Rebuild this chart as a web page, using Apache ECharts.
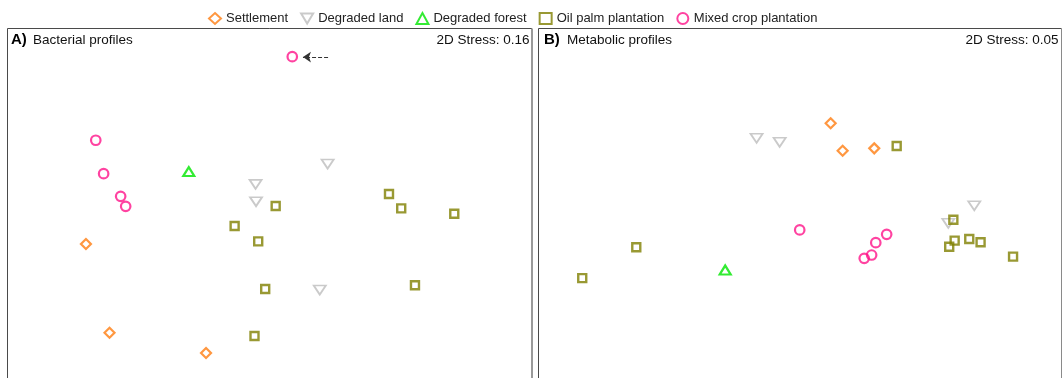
<!DOCTYPE html>
<html>
<head>
<meta charset="utf-8">
<script src="https://cdn.jsdelivr.net/npm/echarts@6/dist/echarts.min.js"></script>
<style>
  html, body { margin: 0; padding: 0; background: #fff; }
  #chart { width: 1063px; height: 378px; }
</style>
</head>
<body>
<div id="chart"></div>
<script>
// Land-use groups, in legend order
const groups = ['Settlement', 'Degraded land', 'Degraded forest', 'Oil palm plantation', 'Mixed crop plantation'];

// NMDS ordination scores [NMDS1, NMDS2] per group — A) bacterial profiles
const bacSettlement = [[-0.843, -0.165], [-0.735, -0.646], [-0.293, -0.756]];
const bacDegradedLand = [[0.264, 0.268], [-0.066, 0.158], [-0.064, 0.064], [0.228, -0.415]];
const bacDegradedForest = [[-0.372, 0.227]];
const bacOilPalm = [[0.026, 0.041], [-0.162, -0.068], [-0.054, -0.151], [0.545, 0.106], [0.601, 0.028],
                    [0.844, -0.001], [-0.022, -0.409], [0.664, -0.389], [-0.071, -0.664]];
const bacMixedCrop = [[0.102, 0.850], [-0.798, 0.397], [-0.762, 0.216], [-0.684, 0.093], [-0.661, 0.039]];

// NMDS ordination scores — B) metabolic profiles
const metSettlement = [[0.143, 0.489], [0.198, 0.340], [0.343, 0.353]];
const metDegradedLand = [[-0.197, 0.408], [-0.091, 0.386], [0.802, 0.042], [0.683, -0.053]];
const metDegradedForest = [[-0.341, -0.306]];
const metOilPalm = [[0.446, 0.366], [-0.749, -0.183], [-0.997, -0.350], [0.706, -0.034], [0.712, -0.147],
                    [0.687, -0.180], [0.779, -0.138], [0.831, -0.156], [0.980, -0.234]];
const metMixedCrop = [[0.001, -0.089], [0.297, -0.243], [0.331, -0.225], [0.350, -0.158], [0.400, -0.113]];

// Arrow marking the outlying mixed-crop sample in panel A (from -> to)
const outlierArrow = [[0.266, 0.848], [0.151, 0.848]];

// Panel captions and stress values
const panelTags = ['A)', 'B)'];
const panelTitles = ['Bacterial profiles', 'Metabolic profiles'];
const stressValues = ['0.16', '0.05'];

const colors = ['#ff7d10', '#bdbdbd', '#00e600', '#7f7f00', '#ff148a'];
const symbols = ['diamond', 'triangle', 'triangle', 'rect', 'circle'];
const rotations = [0, 180, 0, 0, 0];
const sizes = [[10, 10], [12, 9], [11, 9], [8, 8], [9.5, 9.5]];
const strokes = [2.2, 1.8, 2.2, 2.4, 2.2];

const panelData = [
  [bacSettlement, bacDegradedLand, bacDegradedForest, bacOilPalm, bacMixedCrop],
  [metSettlement, metDegradedLand, metDegradedForest, metOilPalm, metMixedCrop]
];

const FONT = '"Liberation Sans", Arial, sans-serif';

const series = [];
panelData.forEach(function (sets, p) {
  sets.forEach(function (pts, g) {
    const s = {
      type: 'scatter',
      name: groups[g],
      xAxisIndex: p,
      yAxisIndex: p,
      data: pts,
      symbol: symbols[g],
      symbolRotate: rotations[g],
      symbolSize: sizes[g],
      itemStyle: {
        color: 'rgba(255,255,255,0)',
        borderColor: colors[g],
        borderWidth: strokes[g]
      },
      emphasis: { disabled: true },
      silent: true
    };
    if (p === 0 && g === 4) {
      s.markLine = {
        silent: true,
        symbol: ['none', 'arrow'],
        symbolSize: 8,
        lineStyle: { type: [4, 2], color: '#333', width: 1 },
        label: { show: false },
        emphasis: { disabled: true },
        data: [[{ coord: outlierArrow[0] }, { coord: outlierArrow[1] }]]
      };
    }
    series.push(s);
  });
});

const axisBase = { min: -1.2, max: 1.2, show: false };
const yBase = { min: -1, max: 1, show: false };

// Panel frames (bottom edge runs past the canvas)
const frames = [
  { l: 7.5, r: 532, rColor: '#9a9a9a', rWidth: 2 },
  { l: 538.5, r: 1061.5, rColor: '#8a8a8a', rWidth: 1 }
];
const graphics = [];
frames.forEach(function (f) {
  graphics.push({
    type: 'polyline', silent: true,
    shape: { points: [[f.l, 400], [f.l, 28.5], [f.r, 28.5]] },
    style: { stroke: '#4a4a4a', lineWidth: 1, fill: null }
  });
  graphics.push({
    type: 'line', silent: true,
    shape: { x1: f.r, y1: 28.5, x2: f.r, y2: 400 },
    style: { stroke: f.rColor, lineWidth: f.rWidth }
  });
});
const tagX = [11, 544];
const titleX = [33, 567];
const stressX = [529.5, 1058.5];
panelTags.forEach(function (tag, i) {
  graphics.push({
    type: 'text', silent: true, x: tagX[i], y: 40,
    style: { text: tag, font: 'bold 15px ' + FONT, fill: '#000', verticalAlign: 'middle' }
  });
  graphics.push({
    type: 'text', silent: true, x: titleX[i], y: 40,
    style: { text: panelTitles[i], font: '13.5px ' + FONT, fill: '#111', verticalAlign: 'middle' }
  });
  graphics.push({
    type: 'text', silent: true, x: stressX[i], y: 40,
    style: { text: '2D Stress: ' + stressValues[i], font: '13.5px ' + FONT, fill: '#111', align: 'right', verticalAlign: 'middle' }
  });
});

// Legend entries; the degraded-land marker points down
const legendData = groups.map(function (name, g) {
  return g === 1 ? { name: name, icon: 'path://M0,0L12,0L6,10Z' } : { name: name };
});

const chart = echarts.init(document.getElementById('chart'), null, { renderer: 'canvas' });
chart.setOption({
  animation: false,
  backgroundColor: '#fff',
  legend: {
    data: legendData,
    left: 203,
    top: 7,
    itemWidth: 12,
    itemHeight: 11,
    itemGap: 12,
    selectedMode: false,
    textStyle: { fontFamily: FONT, fontSize: 13, color: '#222' }
  },
  grid: [
    { left: 8, top: 29, width: 524, height: 369, show: false, outerBoundsMode: 'none' },
    { left: 538, top: 29, width: 523, height: 369, show: false, outerBoundsMode: 'none' }
  ],
  xAxis: [Object.assign({ gridIndex: 0 }, axisBase), Object.assign({ gridIndex: 1 }, axisBase)],
  yAxis: [Object.assign({ gridIndex: 0 }, yBase), Object.assign({ gridIndex: 1 }, yBase)],
  series: series,
  graphic: graphics
});
</script>
</body>
</html>
